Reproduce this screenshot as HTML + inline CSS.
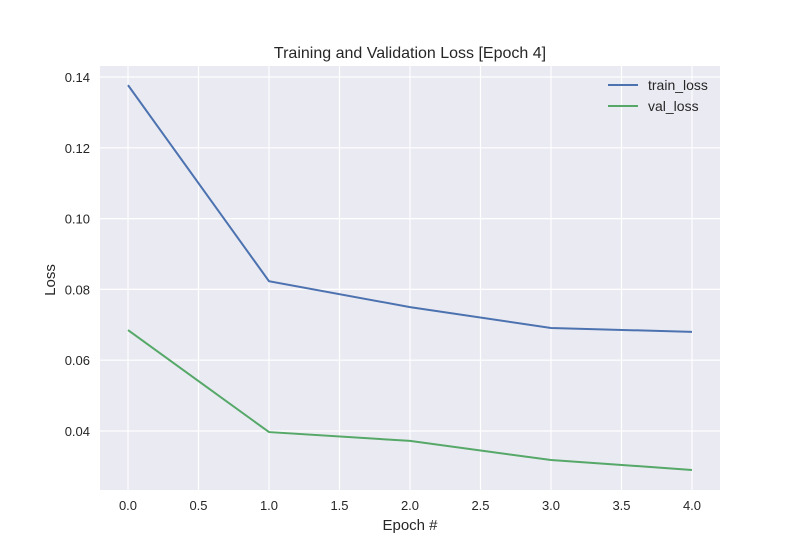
<!DOCTYPE html>
<html><head><meta charset="utf-8"><style>
body{margin:0;background:#fff;}
svg{display:block;font-family:"Liberation Sans",sans-serif;}
</style></head><body>
<svg id="chart" width="800" height="550">
<rect x="100" y="66" width="620" height="424" fill="#eaeaf2"/>
<g id="grid"></g><g id="lines"></g><g id="ticks"></g>
<text x="410" y="58" text-anchor="middle" font-size="16" fill="#262626">Training and Validation Loss [Epoch 4]</text>
<text x="410" y="530" text-anchor="middle" font-size="15" fill="#262626">Epoch #</text>
<text transform="translate(55,280) rotate(-90)" text-anchor="middle" font-size="15" fill="#262626">Loss</text>
<g>
<line x1="608" y1="85" x2="638" y2="85" stroke="#4c72b0" stroke-width="2"/>
<text x="648" y="90" font-size="14" fill="#262626">train_loss</text>
<line x1="608" y1="106" x2="638" y2="106" stroke="#55a868" stroke-width="2"/>
<text x="648" y="111" font-size="14" fill="#262626">val_loss</text>
</g>
</svg>
<script>
const epochs=[0,1,2,3,4];
const trainLoss=[0.1377,0.0823,0.0750,0.0691,0.0680];
const valLoss=[0.0685,0.0397,0.0372,0.0318,0.0290];
const xTicks=[0,0.5,1,1.5,2,2.5,3,3.5,4];
const yTicks=[0.04,0.06,0.08,0.10,0.12,0.14];
const NS="http://www.w3.org/2000/svg";
const xs=v=>128+v*141;
const ys=v=>431-(v-0.04)*3540;
const grid=document.getElementById('grid'),ticks=document.getElementById('ticks'),lines=document.getElementById('lines');
function mk(tag,attrs,parent){const e=document.createElementNS(NS,tag);for(const k in attrs)e.setAttribute(k,attrs[k]);parent.appendChild(e);return e;}
xTicks.forEach(t=>{
 const l=mk('line',{x1:xs(t),x2:xs(t),y1:66,y2:490,stroke:'#fff','stroke-width':1.2},grid);
 
 
 const tx=mk('text',{x:xs(t),y:510,'text-anchor':'middle','font-size':13,fill:'#262626'},ticks);
 tx.textContent=t.toFixed(1);
 
 
});
yTicks.forEach(t=>{
 const l=mk('line',{x1:100,x2:720,y1:ys(t),y2:ys(t),stroke:'#fff','stroke-width':1.2},grid);
 
 
 const tx=mk('text',{x:90,y:ys(t)+5,'text-anchor':'end','font-size':13,fill:'#262626'},ticks);
 tx.textContent=t.toFixed(2);
 
 
});
function series(vals,color,name){
 const p=mk('polyline',{points:epochs.map((e,i)=>xs(e)+','+ys(vals[i])).join(' '),fill:'none',stroke:color,'stroke-width':2},lines);
 
 
}
series(trainLoss,'#4c72b0','train-loss-line');
series(valLoss,'#55a868','val-loss-line');
</script>
</body></html>
